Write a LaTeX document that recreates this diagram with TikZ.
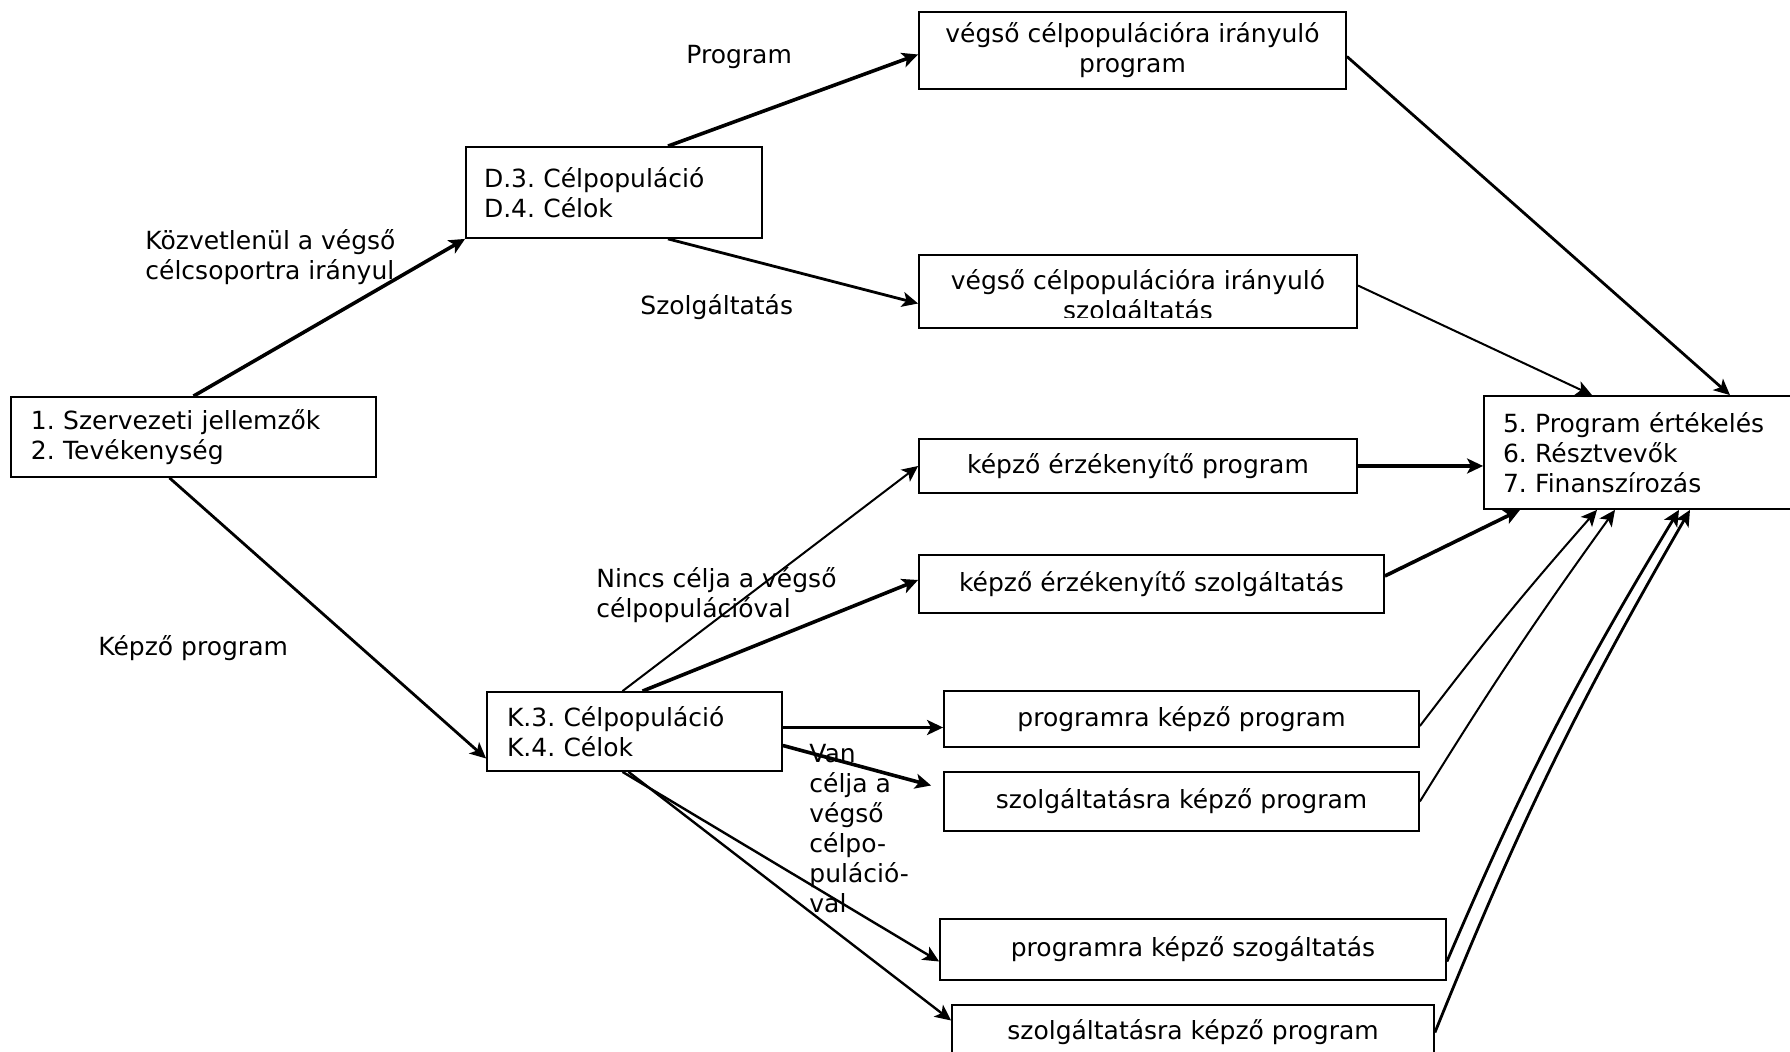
\documentclass[tikz,border=0pt]{standalone}
\usepackage{fontspec}
\setmainfont{DejaVu Sans}
\usetikzlibrary{arrows.meta}

\begin{document}
\frenchspacing
\begin{tikzpicture}[x=0.5pt, y=-0.5pt,
  box/.style={draw, line width=0.9pt, inner sep=0pt, font=\fontsize{12.5}{15}\selectfont},
  lbox/.style={box, align=left, inner xsep=10pt},
  cbox/.style={box, align=center},
  lbl/.style={inner sep=0pt, anchor=west, align=left, font=\fontsize{12.5}{15}\selectfont},
  arr/.style={-{Stealth[length=8pt,width=7.5pt,inset=2pt]}, line width=1pt},
  thickarr/.style={arr, line width=1.8pt}]
  \useasboundingbox (0,0) rectangle (1790,1052);
  \clip (0,0) rectangle (1790,1052);

  \node[lbox, minimum width=182.5pt, minimum height=40pt, text width=162.5pt] (szerv) at (193.5,437) {1. Szervezeti jellemzők\\2. Tevékenység};
  \node[lbox, minimum width=148pt, minimum height=45.5pt, text width=130pt, inner xsep=9pt] (celD) at (614,192.5) {D.3. Célpopuláció\\D.4. Célok};
  \node[lbox, minimum width=147.5pt, minimum height=39.5pt, text width=127.5pt] (celK) at (634.5,731.5) {K.3. Célpopuláció\\K.4. Célok};
  \node[lbox, minimum width=158pt, minimum height=56.5pt, text width=139pt, inner xsep=9.5pt] (ertek) at (1642,452.5) {5. Program értékelés\\6. Résztvevők\\7. Finanszírozás};

  \node[cbox, minimum width=213.5pt, minimum height=38.5pt] (vegsoP) at (1132.5,50.5) {végső célpopulációra irányuló\\program};
  \node[cbox, minimum width=219pt, minimum height=36.5pt] (vegsoSz) at (1138,291.5) {};
  \begin{scope}
    \clip (vegsoSz.north west) rectangle ([yshift=5.5pt]vegsoSz.south east);
    \node[lbl, anchor=center, align=center] (vegsoSzTxt) at (1138,297) {végső célpopulációra irányuló\\szolgáltatás};
  \end{scope}
  \node[cbox, minimum width=219pt, minimum height=27pt] (erzP) at (1138,466) {képző érzékenyítő program};
  \node[cbox, minimum width=232.5pt, minimum height=29pt] (erzSz) at (1151.5,584) {képző érzékenyítő szolgáltatás};
  \node[cbox, minimum width=237.5pt, minimum height=28pt] (progP) at (1181.5,719) {programra képző program};
  \node[cbox, minimum width=237.5pt, minimum height=29.5pt] (szolgP) at (1181.5,801.5) {szolgáltatásra képző program};
  \node[cbox, minimum width=253pt, minimum height=30.5pt] (progSz) at (1193,949.5) {programra képző szogáltatás};
  \node[cbox, minimum width=241pt, minimum height=27.5pt] (szolgP2) at (1193,1032.5) {szolgáltatásra képző program};

  \node[lbl] (lProgram) at (686,57) {Program};
  \node[lbl] (lKozvetlen) at (145,257) {Közvetlenül a végső\\célcsoportra irányul};
  \node[lbl] (lSzolg) at (640,307) {Szolgáltatás};
  \node[lbl] (lKepzo) at (98,648) {Képző program};
  \node[lbl] (lNincs) at (596,595) {Nincs célja a végső\\célpopulációval};
  \node[lbl] (lVan) at (809,829) {Van\\célja a\\végső\\célpo-\\puláció-\\val};

  \draw[thickarr] (szerv.north) -- (celD.south west);
  \draw[arr, line width=1.4pt] ([xshift=-12pt]szerv.south) -- ([yshift=-13.5pt]celK.west);
  \draw[thickarr] ([xshift=27pt]celD.north) -- ([yshift=-2pt]vegsoP.west);
  \draw[arr, line width=1.4pt] ([xshift=27pt]celD.south) -- ([yshift=-6pt]vegsoSz.west);
  \draw[arr, line width=1.4pt] ([yshift=-3pt]vegsoP.east) -- ([xshift=44pt]ertek.north);
  \draw[arr] ([yshift=3pt]vegsoSz.east) -- ([xshift=-25pt]ertek.north);
  \draw[thickarr] (erzP.east) -- (erzP.east -| ertek.west);
  \draw[thickarr] ([yshift=4pt]erzSz.east) -- ([xshift=-61pt]ertek.south);
  \draw[arr] ([yshift=-3.5pt]progP.east) to[bend left=2] ([xshift=-22.5pt]ertek.south);
  \draw[arr] (szolgP.east) to[bend left=2] ([xshift=-13.5pt]ertek.south);
  \draw[arr, line width=1.4pt] ([yshift=-6pt]progSz.east) to[bend left=4] ([xshift=18.5pt]ertek.south);
  \draw[arr, line width=1.4pt] (szolgP2.east) to[bend left=4] ([xshift=24pt]ertek.south);

  \draw[arr] ([xshift=-6pt]celK.north) -- (erzP.west);
  \draw[thickarr] ([xshift=4pt]celK.north) -- ([yshift=2pt]erzSz.west);
  \draw[thickarr] ([yshift=2pt]celK.east) -- ([yshift=2pt]celK.east -| progP.west);
  \draw[thickarr] ([yshift=-7pt]celK.east) -- ([xshift=-6pt,yshift=8pt]szolgP.west);
  \draw[arr, line width=1.2pt] ([xshift=-6pt]celK.south) -- ([yshift=-6pt]progSz.west);
  \draw[arr, line width=1.2pt] ([xshift=-3pt]celK.south) -- ([yshift=6pt]szolgP2.west);
\end{tikzpicture}
\end{document}
